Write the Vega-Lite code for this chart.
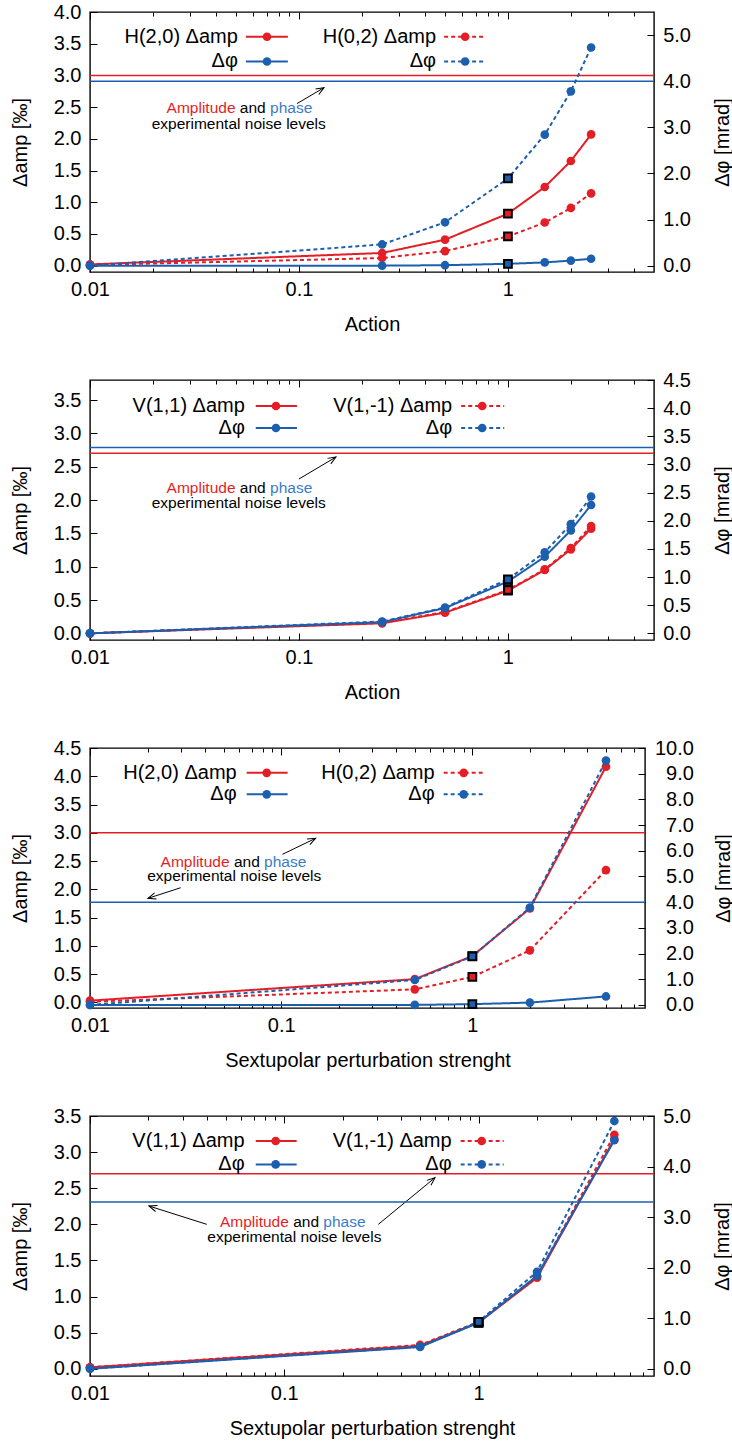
{
  "$schema": "https://vega.github.io/schema/vega-lite/v6.json",
  "background": "white",
  "padding": {"left": 9, "top": 1, "right": 0, "bottom": 0},
  "bounds": "flush",
  "spacing": 108,
  "config": {
    "font": "Liberation Sans",
    "view": {"stroke": "black", "strokeWidth": 1.4},
    "axis": {
      "grid": false, "domain": false, "tickColor": "black", "tickWidth": 1,
      "labelFont": "Liberation Sans", "labelFontSize": 20, "labelColor": "black",
      "titleFont": "Liberation Sans", "titleFontSize": 20, "titleFontWeight": "normal", "titleColor": "black",
      "labelFlush": false, "labelOverlap": false
    },
    "text": {"font": "Liberation Sans", "color": "black"}
  },
  "datasets": {
    "action_h": [
      {"mode": "H(2,0)", "kind": "amp", "x": 0.01, "y": 0.02},
      {"mode": "H(2,0)", "kind": "amp", "x": 0.25, "y": 0.20},
      {"mode": "H(2,0)", "kind": "amp", "x": 0.5, "y": 0.41},
      {"mode": "H(2,0)", "kind": "amp", "x": 1, "y": 0.82},
      {"mode": "H(2,0)", "kind": "amp", "x": 1.5, "y": 1.24},
      {"mode": "H(2,0)", "kind": "amp", "x": 2, "y": 1.65},
      {"mode": "H(2,0)", "kind": "amp", "x": 2.5, "y": 2.07},
      {"mode": "H(2,0)", "kind": "phase", "x": 0.01, "y": 0.0},
      {"mode": "H(2,0)", "kind": "phase", "x": 0.25, "y": 0.0},
      {"mode": "H(2,0)", "kind": "phase", "x": 0.5, "y": 0.01},
      {"mode": "H(2,0)", "kind": "phase", "x": 1, "y": 0.04},
      {"mode": "H(2,0)", "kind": "phase", "x": 1.5, "y": 0.07},
      {"mode": "H(2,0)", "kind": "phase", "x": 2, "y": 0.11},
      {"mode": "H(2,0)", "kind": "phase", "x": 2.5, "y": 0.15},
      {"mode": "H(0,2)", "kind": "amp", "x": 0.01, "y": 0.01},
      {"mode": "H(0,2)", "kind": "amp", "x": 0.25, "y": 0.12},
      {"mode": "H(0,2)", "kind": "amp", "x": 0.5, "y": 0.23},
      {"mode": "H(0,2)", "kind": "amp", "x": 1, "y": 0.46},
      {"mode": "H(0,2)", "kind": "amp", "x": 1.5, "y": 0.68},
      {"mode": "H(0,2)", "kind": "amp", "x": 2, "y": 0.91},
      {"mode": "H(0,2)", "kind": "amp", "x": 2.5, "y": 1.14},
      {"mode": "H(0,2)", "kind": "phase", "x": 0.01, "y": 0.0},
      {"mode": "H(0,2)", "kind": "phase", "x": 0.25, "y": 0.46},
      {"mode": "H(0,2)", "kind": "phase", "x": 0.5, "y": 0.94},
      {"mode": "H(0,2)", "kind": "phase", "x": 1, "y": 1.89},
      {"mode": "H(0,2)", "kind": "phase", "x": 1.5, "y": 2.84},
      {"mode": "H(0,2)", "kind": "phase", "x": 2, "y": 3.78},
      {"mode": "H(0,2)", "kind": "phase", "x": 2.5, "y": 4.73}
    ],
    "action_v": [
      {"mode": "V(1,1)", "kind": "amp", "x": 0.01, "y": 0.0},
      {"mode": "V(1,1)", "kind": "amp", "x": 0.25, "y": 0.15},
      {"mode": "V(1,1)", "kind": "amp", "x": 0.5, "y": 0.31},
      {"mode": "V(1,1)", "kind": "amp", "x": 1, "y": 0.64},
      {"mode": "V(1,1)", "kind": "amp", "x": 1.5, "y": 0.95},
      {"mode": "V(1,1)", "kind": "amp", "x": 2, "y": 1.26},
      {"mode": "V(1,1)", "kind": "amp", "x": 2.5, "y": 1.57},
      {"mode": "V(1,1)", "kind": "phase", "x": 0.01, "y": 0.0},
      {"mode": "V(1,1)", "kind": "phase", "x": 0.25, "y": 0.20},
      {"mode": "V(1,1)", "kind": "phase", "x": 0.5, "y": 0.45},
      {"mode": "V(1,1)", "kind": "phase", "x": 1, "y": 0.92},
      {"mode": "V(1,1)", "kind": "phase", "x": 1.5, "y": 1.36},
      {"mode": "V(1,1)", "kind": "phase", "x": 2, "y": 1.83},
      {"mode": "V(1,1)", "kind": "phase", "x": 2.5, "y": 2.28},
      {"mode": "V(1,-1)", "kind": "amp", "x": 0.01, "y": 0.0},
      {"mode": "V(1,-1)", "kind": "amp", "x": 0.25, "y": 0.16},
      {"mode": "V(1,-1)", "kind": "amp", "x": 0.5, "y": 0.32},
      {"mode": "V(1,-1)", "kind": "amp", "x": 1, "y": 0.65},
      {"mode": "V(1,-1)", "kind": "amp", "x": 1.5, "y": 0.96},
      {"mode": "V(1,-1)", "kind": "amp", "x": 2, "y": 1.28},
      {"mode": "V(1,-1)", "kind": "amp", "x": 2.5, "y": 1.61},
      {"mode": "V(1,-1)", "kind": "phase", "x": 0.01, "y": 0.0},
      {"mode": "V(1,-1)", "kind": "phase", "x": 0.25, "y": 0.21},
      {"mode": "V(1,-1)", "kind": "phase", "x": 0.5, "y": 0.46},
      {"mode": "V(1,-1)", "kind": "phase", "x": 1, "y": 0.96},
      {"mode": "V(1,-1)", "kind": "phase", "x": 1.5, "y": 1.44},
      {"mode": "V(1,-1)", "kind": "phase", "x": 2, "y": 1.94},
      {"mode": "V(1,-1)", "kind": "phase", "x": 2.5, "y": 2.43}
    ],
    "sext_h": [
      {"mode": "H(2,0)", "kind": "amp", "x": 0.01, "y": 0.03},
      {"mode": "H(2,0)", "kind": "amp", "x": 0.5, "y": 0.41},
      {"mode": "H(2,0)", "kind": "amp", "x": 1, "y": 0.82},
      {"mode": "H(2,0)", "kind": "amp", "x": 2, "y": 1.66},
      {"mode": "H(2,0)", "kind": "amp", "x": 5, "y": 4.17},
      {"mode": "H(2,0)", "kind": "phase", "x": 0.01, "y": 0.0},
      {"mode": "H(2,0)", "kind": "phase", "x": 0.5, "y": 0.0},
      {"mode": "H(2,0)", "kind": "phase", "x": 1, "y": 0.03},
      {"mode": "H(2,0)", "kind": "phase", "x": 2, "y": 0.09},
      {"mode": "H(2,0)", "kind": "phase", "x": 5, "y": 0.33},
      {"mode": "H(0,2)", "kind": "amp", "x": 0.01, "y": 0.01},
      {"mode": "H(0,2)", "kind": "amp", "x": 0.5, "y": 0.23},
      {"mode": "H(0,2)", "kind": "amp", "x": 1, "y": 0.45},
      {"mode": "H(0,2)", "kind": "amp", "x": 2, "y": 0.92},
      {"mode": "H(0,2)", "kind": "amp", "x": 5, "y": 2.34},
      {"mode": "H(0,2)", "kind": "phase", "x": 0.01, "y": 0.0},
      {"mode": "H(0,2)", "kind": "phase", "x": 0.5, "y": 0.97},
      {"mode": "H(0,2)", "kind": "phase", "x": 1, "y": 1.89},
      {"mode": "H(0,2)", "kind": "phase", "x": 2, "y": 3.79},
      {"mode": "H(0,2)", "kind": "phase", "x": 5, "y": 9.51}
    ],
    "sext_v": [
      {"mode": "V(1,1)", "kind": "amp", "x": 0.01, "y": 0.02},
      {"mode": "V(1,1)", "kind": "amp", "x": 0.5, "y": 0.32},
      {"mode": "V(1,1)", "kind": "amp", "x": 1, "y": 0.64},
      {"mode": "V(1,1)", "kind": "amp", "x": 2, "y": 1.26},
      {"mode": "V(1,1)", "kind": "amp", "x": 5, "y": 3.18},
      {"mode": "V(1,1)", "kind": "phase", "x": 0.01, "y": 0.0},
      {"mode": "V(1,1)", "kind": "phase", "x": 0.5, "y": 0.43},
      {"mode": "V(1,1)", "kind": "phase", "x": 1, "y": 0.91},
      {"mode": "V(1,1)", "kind": "phase", "x": 2, "y": 1.84},
      {"mode": "V(1,1)", "kind": "phase", "x": 5, "y": 4.52},
      {"mode": "V(1,-1)", "kind": "amp", "x": 0.01, "y": 0.02},
      {"mode": "V(1,-1)", "kind": "amp", "x": 0.5, "y": 0.33},
      {"mode": "V(1,-1)", "kind": "amp", "x": 1, "y": 0.65},
      {"mode": "V(1,-1)", "kind": "amp", "x": 2, "y": 1.28},
      {"mode": "V(1,-1)", "kind": "amp", "x": 5, "y": 3.24},
      {"mode": "V(1,-1)", "kind": "phase", "x": 0.01, "y": 0.0},
      {"mode": "V(1,-1)", "kind": "phase", "x": 0.5, "y": 0.44},
      {"mode": "V(1,-1)", "kind": "phase", "x": 1, "y": 0.93},
      {"mode": "V(1,-1)", "kind": "phase", "x": 2, "y": 1.92},
      {"mode": "V(1,-1)", "kind": "phase", "x": 5, "y": 4.90}
    ]
  },
  "vconcat": [
    {
      "width": 564, "height": 260,
      "layer": [
        {
          "layer": [
            {"data": {"values": [{}]}, "mark": {"type": "rule", "color": "#e41e26", "strokeWidth": 1.5},
             "encoding": {"y": {"datum": 3.0, "scale": {"domain": [-0.1, 4], "nice": false, "zero": false}, "axis": null}}},
            {"data": {"name": "action_h"}, "transform": [{"filter": "datum.kind == 'amp'"}],
             "mark": {"type": "line", "color": "#e41e26", "strokeWidth": 2},
             "encoding": {
               "x": {"field": "x", "type": "quantitative", "scale": {"type": "log", "domain": [0.01, 5], "nice": false},
                     "axis": {"orient": "bottom", "values": [0.01, 0.1, 1], "format": "~g", "title": "Action", "tickSize": -7, "labelPadding": 14, "titlePadding": 15}},
               "y": {"field": "y", "type": "quantitative", "scale": {"domain": [-0.1, 4], "nice": false, "zero": false},
                     "axis": {"orient": "left", "values": [0, 0.5, 1, 1.5, 2, 2.5, 3, 3.5, 4], "format": ".1f", "title": "Δamp [‰]", "tickSize": -7, "labelPadding": 16, "titlePadding": 23}},
               "strokeDash": {"field": "mode", "type": "nominal", "scale": {"domain": ["H(2,0)", "H(0,2)", "V(1,1)", "V(1,-1)"], "range": [[1, 0], [4, 3], [1, 0], [4, 3]]}, "legend": null}
             }},
            {"data": {"name": "action_h"}, "transform": [{"filter": "datum.kind == 'amp' && datum.x != 1"}],
             "mark": {"type": "circle", "color": "#e41e26", "size": 75, "opacity": 1},
             "encoding": {
               "x": {"field": "x", "type": "quantitative", "axis": {"orient": "bottom", "values": [0.02, 0.03, 0.04, 0.05, 0.06, 0.07, 0.08, 0.09, 0.2, 0.3, 0.4, 0.5, 0.6, 0.7, 0.8, 0.9, 2, 3, 4], "labels": false, "title": null, "tickSize": -4}},
               "y": {"field": "y", "type": "quantitative", "axis": null}}},
            {"data": {"name": "action_h"}, "transform": [{"filter": "datum.kind == 'amp' && datum.x == 1"}],
             "mark": {"type": "square", "fill": "#e41e26", "stroke": "black", "strokeWidth": 2, "size": 60, "opacity": 1},
             "encoding": {"x": {"field": "x", "type": "quantitative", "axis": null}, "y": {"field": "y", "type": "quantitative", "axis": null}}},
            {"data": {"values": [{}]}, "mark": {"type": "text", "text": "H(2,0) Δamp", "align": "right", "baseline": "middle", "fontSize": 20},
             "encoding": {"x": {"datum": 0.051, "axis": null}, "y": {"datum": 3.61, "axis": null}}},
            {"data": {"values": [{}]}, "mark": {"type": "text", "text": "Δφ", "align": "right", "baseline": "middle", "fontSize": 20},
             "encoding": {"x": {"datum": 0.051, "axis": null}, "y": {"datum": 3.22, "axis": null}}},
            {"data": {"values": [{}]}, "mark": {"type": "text", "text": "H(0,2) Δamp", "align": "right", "baseline": "middle", "fontSize": 20},
             "encoding": {"x": {"datum": 0.453, "axis": null}, "y": {"datum": 3.61, "axis": null}}},
            {"data": {"values": [{}]}, "mark": {"type": "text", "text": "Δφ", "align": "right", "baseline": "middle", "fontSize": 20},
             "encoding": {"x": {"datum": 0.453, "axis": null}, "y": {"datum": 3.22, "axis": null}}},
            {"data": {"values": [{}]}, "mark": {"type": "rule", "color": "#e41e26", "strokeWidth": 2},
             "encoding": {"x": {"datum": 0.0557, "axis": null}, "x2": {"datum": 0.0885}, "y": {"datum": 3.61, "axis": null}}},
            {"data": {"values": [{}]}, "mark": {"type": "rule", "color": "#1c5fae", "strokeWidth": 2},
             "encoding": {"x": {"datum": 0.0557, "axis": null}, "x2": {"datum": 0.0885}, "y": {"datum": 3.22, "axis": null}}},
            {"data": {"values": [{}]}, "mark": {"type": "rule", "color": "#e41e26", "strokeWidth": 2, "strokeDash": [4, 3]},
             "encoding": {"x": {"datum": 0.495, "axis": null}, "x2": {"datum": 0.787}, "y": {"datum": 3.61, "axis": null}}},
            {"data": {"values": [{}]}, "mark": {"type": "rule", "color": "#1c5fae", "strokeWidth": 2, "strokeDash": [4, 3]},
             "encoding": {"x": {"datum": 0.495, "axis": null}, "x2": {"datum": 0.787}, "y": {"datum": 3.22, "axis": null}}},
            {"data": {"values": [{}]}, "mark": {"type": "circle", "color": "#e41e26", "size": 75, "opacity": 1},
             "encoding": {"x": {"datum": 0.0703, "axis": null}, "y": {"datum": 3.61, "axis": null}}},
            {"data": {"values": [{}]}, "mark": {"type": "circle", "color": "#1c5fae", "size": 75, "opacity": 1},
             "encoding": {"x": {"datum": 0.0703, "axis": null}, "y": {"datum": 3.22, "axis": null}}},
            {"data": {"values": [{}]}, "mark": {"type": "circle", "color": "#e41e26", "size": 75, "opacity": 1},
             "encoding": {"x": {"datum": 0.624, "axis": null}, "y": {"datum": 3.61, "axis": null}}},
            {"data": {"values": [{}]}, "mark": {"type": "circle", "color": "#1c5fae", "size": 75, "opacity": 1},
             "encoding": {"x": {"datum": 0.624, "axis": null}, "y": {"datum": 3.22, "axis": null}}},
            {"data": {"values": [{}]}, "mark": {"type": "text", "text": "Amplitude", "align": "right", "baseline": "middle", "fontSize": 15.5, "color": "#e41e26"},
             "encoding": {"x": {"datum": 0.0497, "axis": null}, "y": {"datum": 2.49, "axis": null}}},
            {"data": {"values": [{}]}, "mark": {"type": "text", "text": "and", "align": "center", "baseline": "middle", "fontSize": 15.5},
             "encoding": {"x": {"datum": 0.0601, "axis": null}, "y": {"datum": 2.49, "axis": null}}},
            {"data": {"values": [{}]}, "mark": {"type": "text", "text": "phase", "align": "left", "baseline": "middle", "fontSize": 15.5, "color": "#3b7cc6"},
             "encoding": {"x": {"datum": 0.0727, "axis": null}, "y": {"datum": 2.49, "axis": null}}},
            {"data": {"values": [{}]}, "mark": {"type": "text", "text": "experimental noise levels", "align": "center", "baseline": "middle", "fontSize": 15.5},
             "encoding": {"x": {"datum": 0.0515, "axis": null}, "y": {"datum": 2.24, "axis": null}}},
            {"data": {"values": [{}]}, "mark": {"type": "rule", "color": "black", "strokeWidth": 1},
             "encoding": {"x": {"datum": 0.0978, "axis": null}, "x2": {"datum": 0.1318}, "y": {"datum": 2.555, "axis": null}, "y2": {"datum": 2.807}}},
            {"data": {"values": [{}]}, "mark": {"type": "point", "shape": "M-2,-0.8L0,0L-2,0.8", "filled": false, "stroke": "black", "strokeWidth": 1, "size": 64, "angle": 329, "opacity": 1},
             "encoding": {"x": {"datum": 0.1318, "axis": null}, "y": {"datum": 2.807, "axis": null}}}
          ],
          "resolve": {"axis": {"x": "independent", "y": "independent"}}
        },
        {
          "layer": [
            {"data": {"values": [{}]}, "mark": {"type": "rule", "color": "#1c5fae", "strokeWidth": 1.5},
             "encoding": {"y": {"datum": 4.0, "scale": {"domain": [-0.1375, 5.5], "nice": false, "zero": false}, "axis": null}}},
            {"data": {"name": "action_h"}, "transform": [{"filter": "datum.kind == 'phase'"}],
             "mark": {"type": "line", "color": "#1c5fae", "strokeWidth": 2},
             "encoding": {
               "x": {"field": "x", "type": "quantitative", "axis": {"orient": "top", "values": [0.01, 0.1, 1], "labels": false, "title": null, "tickSize": -7}},
               "y": {"field": "y", "type": "quantitative", "scale": {"domain": [-0.1375, 5.5], "nice": false, "zero": false},
                     "axis": {"orient": "right", "values": [0, 1, 2, 3, 4, 5], "format": ".1f", "title": "Δφ [mrad]", "tickSize": -7, "labelAlign": "right", "labelPadding": 43.5, "titlePadding": 22, "titleAngle": 270, "titleBaseline": "top"}},
               "strokeDash": {"field": "mode", "type": "nominal", "scale": {"domain": ["H(2,0)", "H(0,2)", "V(1,1)", "V(1,-1)"], "range": [[1, 0], [4, 3], [1, 0], [4, 3]]}, "legend": null}
             }},
            {"data": {"name": "action_h"}, "transform": [{"filter": "datum.kind == 'phase' && datum.x != 1"}],
             "mark": {"type": "circle", "color": "#1c5fae", "size": 75, "opacity": 1},
             "encoding": {
               "x": {"field": "x", "type": "quantitative", "axis": {"orient": "top", "values": [0.02, 0.03, 0.04, 0.05, 0.06, 0.07, 0.08, 0.09, 0.2, 0.3, 0.4, 0.5, 0.6, 0.7, 0.8, 0.9, 2, 3, 4], "labels": false, "title": null, "tickSize": -4}},
               "y": {"field": "y", "type": "quantitative", "axis": null}}},
            {"data": {"name": "action_h"}, "transform": [{"filter": "datum.kind == 'phase' && datum.x == 1"}],
             "mark": {"type": "square", "fill": "#1c5fae", "stroke": "black", "strokeWidth": 2, "size": 60, "opacity": 1},
             "encoding": {"x": {"field": "x", "type": "quantitative", "axis": null}, "y": {"field": "y", "type": "quantitative", "axis": null}}}
          ],
          "resolve": {"axis": {"x": "independent", "y": "independent"}}
        }
      ],
      "resolve": {"scale": {"y": "independent"}, "axis": {"x": "independent", "y": "independent"}}
    },
    {
      "width": 564, "height": 260,
      "layer": [
        {
          "layer": [
            {"data": {"values": [{}]}, "mark": {"type": "rule", "color": "#e41e26", "strokeWidth": 1.5},
             "encoding": {"y": {"datum": 2.7, "scale": {"domain": [-0.1, 3.8], "nice": false, "zero": false}, "axis": null}}},
            {"data": {"name": "action_v"}, "transform": [{"filter": "datum.kind == 'amp'"}],
             "mark": {"type": "line", "color": "#e41e26", "strokeWidth": 2},
             "encoding": {
               "x": {"field": "x", "type": "quantitative", "scale": {"type": "log", "domain": [0.01, 5], "nice": false},
                     "axis": {"orient": "bottom", "values": [0.01, 0.1, 1], "format": "~g", "title": "Action", "tickSize": -7, "labelPadding": 14, "titlePadding": 15}},
               "y": {"field": "y", "type": "quantitative", "scale": {"domain": [-0.1, 3.8], "nice": false, "zero": false},
                     "axis": {"orient": "left", "values": [0, 0.5, 1, 1.5, 2, 2.5, 3, 3.5], "format": ".1f", "title": "Δamp [‰]", "tickSize": -7, "labelPadding": 16, "titlePadding": 23}},
               "strokeDash": {"field": "mode", "type": "nominal", "scale": {"domain": ["H(2,0)", "H(0,2)", "V(1,1)", "V(1,-1)"], "range": [[1, 0], [4, 3], [1, 0], [4, 3]]}, "legend": null}
             }},
            {"data": {"name": "action_v"}, "transform": [{"filter": "datum.kind == 'amp' && datum.x != 1"}],
             "mark": {"type": "circle", "color": "#e41e26", "size": 75, "opacity": 1},
             "encoding": {
               "x": {"field": "x", "type": "quantitative", "axis": {"orient": "bottom", "values": [0.02, 0.03, 0.04, 0.05, 0.06, 0.07, 0.08, 0.09, 0.2, 0.3, 0.4, 0.5, 0.6, 0.7, 0.8, 0.9, 2, 3, 4], "labels": false, "title": null, "tickSize": -4}},
               "y": {"field": "y", "type": "quantitative", "axis": null}}},
            {"data": {"name": "action_v"}, "transform": [{"filter": "datum.kind == 'amp' && datum.x == 1"}],
             "mark": {"type": "square", "fill": "#e41e26", "stroke": "black", "strokeWidth": 2, "size": 60, "opacity": 1},
             "encoding": {"x": {"field": "x", "type": "quantitative", "axis": null}, "y": {"field": "y", "type": "quantitative", "axis": null}}},
            {"data": {"values": [{}]}, "mark": {"type": "text", "text": "V(1,1) Δamp", "align": "right", "baseline": "middle", "fontSize": 20},
             "encoding": {"x": {"datum": 0.0551, "axis": null}, "y": {"datum": 3.41, "axis": null}}},
            {"data": {"values": [{}]}, "mark": {"type": "text", "text": "Δφ", "align": "right", "baseline": "middle", "fontSize": 20},
             "encoding": {"x": {"datum": 0.0551, "axis": null}, "y": {"datum": 3.08, "axis": null}}},
            {"data": {"values": [{}]}, "mark": {"type": "text", "text": "V(1,-1) Δamp", "align": "right", "baseline": "middle", "fontSize": 20},
             "encoding": {"x": {"datum": 0.541, "axis": null}, "y": {"datum": 3.41, "axis": null}}},
            {"data": {"values": [{}]}, "mark": {"type": "text", "text": "Δφ", "align": "right", "baseline": "middle", "fontSize": 20},
             "encoding": {"x": {"datum": 0.541, "axis": null}, "y": {"datum": 3.08, "axis": null}}},
            {"data": {"values": [{}]}, "mark": {"type": "rule", "color": "#e41e26", "strokeWidth": 2},
             "encoding": {"x": {"datum": 0.0621, "axis": null}, "x2": {"datum": 0.0978}, "y": {"datum": 3.41, "axis": null}}},
            {"data": {"values": [{}]}, "mark": {"type": "rule", "color": "#1c5fae", "strokeWidth": 2},
             "encoding": {"x": {"datum": 0.0621, "axis": null}, "x2": {"datum": 0.0978}, "y": {"datum": 3.08, "axis": null}}},
            {"data": {"values": [{}]}, "mark": {"type": "rule", "color": "#e41e26", "strokeWidth": 2, "strokeDash": [4, 3]},
             "encoding": {"x": {"datum": 0.5974, "axis": null}, "x2": {"datum": 0.96}, "y": {"datum": 3.41, "axis": null}}},
            {"data": {"values": [{}]}, "mark": {"type": "rule", "color": "#1c5fae", "strokeWidth": 2, "strokeDash": [4, 3]},
             "encoding": {"x": {"datum": 0.5974, "axis": null}, "x2": {"datum": 0.96}, "y": {"datum": 3.08, "axis": null}}},
            {"data": {"values": [{}]}, "mark": {"type": "circle", "color": "#e41e26", "size": 75, "opacity": 1},
             "encoding": {"x": {"datum": 0.0776, "axis": null}, "y": {"datum": 3.41, "axis": null}}},
            {"data": {"values": [{}]}, "mark": {"type": "circle", "color": "#1c5fae", "size": 75, "opacity": 1},
             "encoding": {"x": {"datum": 0.0776, "axis": null}, "y": {"datum": 3.08, "axis": null}}},
            {"data": {"values": [{}]}, "mark": {"type": "circle", "color": "#e41e26", "size": 75, "opacity": 1},
             "encoding": {"x": {"datum": 0.753, "axis": null}, "y": {"datum": 3.41, "axis": null}}},
            {"data": {"values": [{}]}, "mark": {"type": "circle", "color": "#1c5fae", "size": 75, "opacity": 1},
             "encoding": {"x": {"datum": 0.753, "axis": null}, "y": {"datum": 3.08, "axis": null}}},
            {"data": {"values": [{}]}, "mark": {"type": "text", "text": "Amplitude", "align": "right", "baseline": "middle", "fontSize": 15.5, "color": "#e41e26"},
             "encoding": {"x": {"datum": 0.0497, "axis": null}, "y": {"datum": 2.18, "axis": null}}},
            {"data": {"values": [{}]}, "mark": {"type": "text", "text": "and", "align": "center", "baseline": "middle", "fontSize": 15.5},
             "encoding": {"x": {"datum": 0.0601, "axis": null}, "y": {"datum": 2.18, "axis": null}}},
            {"data": {"values": [{}]}, "mark": {"type": "text", "text": "phase", "align": "left", "baseline": "middle", "fontSize": 15.5, "color": "#3b7cc6"},
             "encoding": {"x": {"datum": 0.0727, "axis": null}, "y": {"datum": 2.18, "axis": null}}},
            {"data": {"values": [{}]}, "mark": {"type": "text", "text": "experimental noise levels", "align": "center", "baseline": "middle", "fontSize": 15.5},
             "encoding": {"x": {"datum": 0.0515, "axis": null}, "y": {"datum": 1.96, "axis": null}}},
            {"data": {"values": [{}]}, "mark": {"type": "rule", "color": "black", "strokeWidth": 1},
             "encoding": {"x": {"datum": 0.1, "axis": null}, "x2": {"datum": 0.1504}, "y": {"datum": 2.315, "axis": null}, "y2": {"datum": 2.645}}},
            {"data": {"values": [{}]}, "mark": {"type": "point", "shape": "M-2,-0.8L0,0L-2,0.8", "filled": false, "stroke": "black", "strokeWidth": 1, "size": 64, "angle": 329, "opacity": 1},
             "encoding": {"x": {"datum": 0.1504, "axis": null}, "y": {"datum": 2.645, "axis": null}}}
          ],
          "resolve": {"axis": {"x": "independent", "y": "independent"}}
        },
        {
          "layer": [
            {"data": {"values": [{}]}, "mark": {"type": "rule", "color": "#1c5fae", "strokeWidth": 1.5},
             "encoding": {"y": {"datum": 3.3, "scale": {"domain": [-0.118, 4.5], "nice": false, "zero": false}, "axis": null}}},
            {"data": {"name": "action_v"}, "transform": [{"filter": "datum.kind == 'phase'"}],
             "mark": {"type": "line", "color": "#1c5fae", "strokeWidth": 2},
             "encoding": {
               "x": {"field": "x", "type": "quantitative", "axis": {"orient": "top", "values": [0.01, 0.1, 1], "labels": false, "title": null, "tickSize": -7}},
               "y": {"field": "y", "type": "quantitative", "scale": {"domain": [-0.118, 4.5], "nice": false, "zero": false},
                     "axis": {"orient": "right", "values": [0, 0.5, 1, 1.5, 2, 2.5, 3, 3.5, 4, 4.5], "format": ".1f", "title": "Δφ [mrad]", "tickSize": -7, "labelAlign": "right", "labelPadding": 43.5, "titlePadding": 22, "titleAngle": 270, "titleBaseline": "top"}},
               "strokeDash": {"field": "mode", "type": "nominal", "scale": {"domain": ["H(2,0)", "H(0,2)", "V(1,1)", "V(1,-1)"], "range": [[1, 0], [4, 3], [1, 0], [4, 3]]}, "legend": null}
             }},
            {"data": {"name": "action_v"}, "transform": [{"filter": "datum.kind == 'phase' && datum.x != 1"}],
             "mark": {"type": "circle", "color": "#1c5fae", "size": 75, "opacity": 1},
             "encoding": {
               "x": {"field": "x", "type": "quantitative", "axis": {"orient": "top", "values": [0.02, 0.03, 0.04, 0.05, 0.06, 0.07, 0.08, 0.09, 0.2, 0.3, 0.4, 0.5, 0.6, 0.7, 0.8, 0.9, 2, 3, 4], "labels": false, "title": null, "tickSize": -4}},
               "y": {"field": "y", "type": "quantitative", "axis": null}}},
            {"data": {"name": "action_v"}, "transform": [{"filter": "datum.kind == 'phase' && datum.x == 1"}],
             "mark": {"type": "square", "fill": "#1c5fae", "stroke": "black", "strokeWidth": 2, "size": 60, "opacity": 1},
             "encoding": {"x": {"field": "x", "type": "quantitative", "axis": null}, "y": {"field": "y", "type": "quantitative", "axis": null}}}
          ],
          "resolve": {"axis": {"x": "independent", "y": "independent"}}
        }
      ],
      "resolve": {"scale": {"y": "independent"}, "axis": {"x": "independent", "y": "independent"}}
    },
    {
      "width": 555, "height": 260,
      "layer": [
        {
          "layer": [
            {"data": {"values": [{}]}, "mark": {"type": "rule", "color": "#e41e26", "strokeWidth": 1.5},
             "encoding": {"y": {"datum": 3.0, "scale": {"domain": [-0.1, 4.5], "nice": false, "zero": false}, "axis": null}}},
            {"data": {"name": "sext_h"}, "transform": [{"filter": "datum.kind == 'amp'"}],
             "mark": {"type": "line", "color": "#e41e26", "strokeWidth": 2},
             "encoding": {
               "x": {"field": "x", "type": "quantitative", "scale": {"type": "log", "domain": [0.01, 8], "nice": false},
                     "axis": {"orient": "bottom", "values": [0.01, 0.1, 1], "format": "~g", "title": "Sextupolar perturbation strenght", "tickSize": -7, "labelPadding": 14, "titlePadding": 15}},
               "y": {"field": "y", "type": "quantitative", "scale": {"domain": [-0.1, 4.5], "nice": false, "zero": false},
                     "axis": {"orient": "left", "values": [0, 0.5, 1, 1.5, 2, 2.5, 3, 3.5, 4, 4.5], "format": ".1f", "title": "Δamp [‰]", "tickSize": -7, "labelPadding": 16, "titlePadding": 23}},
               "strokeDash": {"field": "mode", "type": "nominal", "scale": {"domain": ["H(2,0)", "H(0,2)", "V(1,1)", "V(1,-1)"], "range": [[1, 0], [4, 3], [1, 0], [4, 3]]}, "legend": null}
             }},
            {"data": {"name": "sext_h"}, "transform": [{"filter": "datum.kind == 'amp' && datum.x != 1"}],
             "mark": {"type": "circle", "color": "#e41e26", "size": 75, "opacity": 1},
             "encoding": {
               "x": {"field": "x", "type": "quantitative", "axis": {"orient": "bottom", "values": [0.02, 0.03, 0.04, 0.05, 0.06, 0.07, 0.08, 0.09, 0.2, 0.3, 0.4, 0.5, 0.6, 0.7, 0.8, 0.9, 2, 3, 4, 5, 6, 7], "labels": false, "title": null, "tickSize": -4}},
               "y": {"field": "y", "type": "quantitative", "axis": null}}},
            {"data": {"name": "sext_h"}, "transform": [{"filter": "datum.kind == 'amp' && datum.x == 1"}],
             "mark": {"type": "square", "fill": "#e41e26", "stroke": "black", "strokeWidth": 2, "size": 60, "opacity": 1},
             "encoding": {"x": {"field": "x", "type": "quantitative", "axis": null}, "y": {"field": "y", "type": "quantitative", "axis": null}}},
            {"data": {"values": [{}]}, "mark": {"type": "text", "text": "H(2,0) Δamp", "align": "right", "baseline": "middle", "fontSize": 20},
             "encoding": {"x": {"datum": 0.0585, "axis": null}, "y": {"datum": 4.06, "axis": null}}},
            {"data": {"values": [{}]}, "mark": {"type": "text", "text": "Δφ", "align": "right", "baseline": "middle", "fontSize": 20},
             "encoding": {"x": {"datum": 0.0585, "axis": null}, "y": {"datum": 3.68, "axis": null}}},
            {"data": {"values": [{}]}, "mark": {"type": "text", "text": "H(0,2) Δamp", "align": "right", "baseline": "middle", "fontSize": 20},
             "encoding": {"x": {"datum": 0.635, "axis": null}, "y": {"datum": 4.06, "axis": null}}},
            {"data": {"values": [{}]}, "mark": {"type": "text", "text": "Δφ", "align": "right", "baseline": "middle", "fontSize": 20},
             "encoding": {"x": {"datum": 0.635, "axis": null}, "y": {"datum": 3.68, "axis": null}}},
            {"data": {"values": [{}]}, "mark": {"type": "rule", "color": "#e41e26", "strokeWidth": 2},
             "encoding": {"x": {"datum": 0.066, "axis": null}, "x2": {"datum": 0.1081}, "y": {"datum": 4.06, "axis": null}}},
            {"data": {"values": [{}]}, "mark": {"type": "rule", "color": "#1c5fae", "strokeWidth": 2},
             "encoding": {"x": {"datum": 0.066, "axis": null}, "x2": {"datum": 0.1081}, "y": {"datum": 3.68, "axis": null}}},
            {"data": {"values": [{}]}, "mark": {"type": "rule", "color": "#e41e26", "strokeWidth": 2, "strokeDash": [4, 3]},
             "encoding": {"x": {"datum": 0.708, "axis": null}, "x2": {"datum": 1.16}, "y": {"datum": 4.06, "axis": null}}},
            {"data": {"values": [{}]}, "mark": {"type": "rule", "color": "#1c5fae", "strokeWidth": 2, "strokeDash": [4, 3]},
             "encoding": {"x": {"datum": 0.708, "axis": null}, "x2": {"datum": 1.16}, "y": {"datum": 3.68, "axis": null}}},
            {"data": {"values": [{}]}, "mark": {"type": "circle", "color": "#e41e26", "size": 75, "opacity": 1},
             "encoding": {"x": {"datum": 0.084, "axis": null}, "y": {"datum": 4.06, "axis": null}}},
            {"data": {"values": [{}]}, "mark": {"type": "circle", "color": "#1c5fae", "size": 75, "opacity": 1},
             "encoding": {"x": {"datum": 0.084, "axis": null}, "y": {"datum": 3.68, "axis": null}}},
            {"data": {"values": [{}]}, "mark": {"type": "circle", "color": "#e41e26", "size": 75, "opacity": 1},
             "encoding": {"x": {"datum": 0.901, "axis": null}, "y": {"datum": 4.06, "axis": null}}},
            {"data": {"values": [{}]}, "mark": {"type": "circle", "color": "#1c5fae", "size": 75, "opacity": 1},
             "encoding": {"x": {"datum": 0.901, "axis": null}, "y": {"datum": 3.68, "axis": null}}},
            {"data": {"values": [{}]}, "mark": {"type": "text", "text": "Amplitude", "align": "right", "baseline": "middle", "fontSize": 15.5, "color": "#e41e26"},
             "encoding": {"x": {"datum": 0.0537, "axis": null}, "y": {"datum": 2.49, "axis": null}}},
            {"data": {"values": [{}]}, "mark": {"type": "text", "text": "and", "align": "center", "baseline": "middle", "fontSize": 15.5},
             "encoding": {"x": {"datum": 0.0662, "axis": null}, "y": {"datum": 2.49, "axis": null}}},
            {"data": {"values": [{}]}, "mark": {"type": "text", "text": "phase", "align": "left", "baseline": "middle", "fontSize": 15.5, "color": "#3b7cc6"},
             "encoding": {"x": {"datum": 0.0814, "axis": null}, "y": {"datum": 2.49, "axis": null}}},
            {"data": {"values": [{}]}, "mark": {"type": "text", "text": "experimental noise levels", "align": "center", "baseline": "middle", "fontSize": 15.5},
             "encoding": {"x": {"datum": 0.0568, "axis": null}, "y": {"datum": 2.23, "axis": null}}},
            {"data": {"values": [{}]}, "mark": {"type": "rule", "color": "black", "strokeWidth": 1},
             "encoding": {"x": {"datum": 0.1015, "axis": null}, "x2": {"datum": 0.1515}, "y": {"datum": 2.619, "axis": null}, "y2": {"datum": 2.902}}},
            {"data": {"values": [{}]}, "mark": {"type": "point", "shape": "M-2,-0.8L0,0L-2,0.8", "filled": false, "stroke": "black", "strokeWidth": 1, "size": 64, "angle": 334, "opacity": 1},
             "encoding": {"x": {"datum": 0.1515, "axis": null}, "y": {"datum": 2.902, "axis": null}}},
            {"data": {"values": [{}]}, "mark": {"type": "rule", "color": "black", "strokeWidth": 1},
             "encoding": {"x": {"datum": 0.0298, "axis": null}, "x2": {"datum": 0.0201}, "y": {"datum": 2.028, "axis": null}, "y2": {"datum": 1.84}}},
            {"data": {"values": [{}]}, "mark": {"type": "point", "shape": "M-2,-0.8L0,0L-2,0.8", "filled": false, "stroke": "black", "strokeWidth": 1, "size": 64, "angle": 162, "opacity": 1},
             "encoding": {"x": {"datum": 0.0201, "axis": null}, "y": {"datum": 1.84, "axis": null}}}
          ],
          "resolve": {"axis": {"x": "independent", "y": "independent"}}
        },
        {
          "layer": [
            {"data": {"values": [{}]}, "mark": {"type": "rule", "color": "#1c5fae", "strokeWidth": 1.5},
             "encoding": {"y": {"datum": 4.0, "scale": {"domain": [-0.12, 10], "nice": false, "zero": false}, "axis": null}}},
            {"data": {"name": "sext_h"}, "transform": [{"filter": "datum.kind == 'phase'"}],
             "mark": {"type": "line", "color": "#1c5fae", "strokeWidth": 2},
             "encoding": {
               "x": {"field": "x", "type": "quantitative", "axis": {"orient": "top", "values": [0.01, 0.1, 1], "labels": false, "title": null, "tickSize": -7}},
               "y": {"field": "y", "type": "quantitative", "scale": {"domain": [-0.12, 10], "nice": false, "zero": false},
                     "axis": {"orient": "right", "values": [0, 1, 2, 3, 4, 5, 6, 7, 8, 9, 10], "format": ".1f", "title": "Δφ [mrad]", "tickSize": -7, "labelAlign": "right", "labelPadding": 55.4, "titlePadding": 20, "titleAngle": 270, "titleBaseline": "top"}},
               "strokeDash": {"field": "mode", "type": "nominal", "scale": {"domain": ["H(2,0)", "H(0,2)", "V(1,1)", "V(1,-1)"], "range": [[1, 0], [4, 3], [1, 0], [4, 3]]}, "legend": null}
             }},
            {"data": {"name": "sext_h"}, "transform": [{"filter": "datum.kind == 'phase' && datum.x != 1"}],
             "mark": {"type": "circle", "color": "#1c5fae", "size": 75, "opacity": 1},
             "encoding": {
               "x": {"field": "x", "type": "quantitative", "axis": {"orient": "top", "values": [0.02, 0.03, 0.04, 0.05, 0.06, 0.07, 0.08, 0.09, 0.2, 0.3, 0.4, 0.5, 0.6, 0.7, 0.8, 0.9, 2, 3, 4, 5, 6, 7], "labels": false, "title": null, "tickSize": -4}},
               "y": {"field": "y", "type": "quantitative", "axis": null}}},
            {"data": {"name": "sext_h"}, "transform": [{"filter": "datum.kind == 'phase' && datum.x == 1"}],
             "mark": {"type": "square", "fill": "#1c5fae", "stroke": "black", "strokeWidth": 2, "size": 60, "opacity": 1},
             "encoding": {"x": {"field": "x", "type": "quantitative", "axis": null}, "y": {"field": "y", "type": "quantitative", "axis": null}}}
          ],
          "resolve": {"axis": {"x": "independent", "y": "independent"}}
        }
      ],
      "resolve": {"scale": {"y": "independent"}, "axis": {"x": "independent", "y": "independent"}}
    },
    {
      "width": 564, "height": 260,
      "layer": [
        {
          "layer": [
            {"data": {"values": [{}]}, "mark": {"type": "rule", "color": "#e41e26", "strokeWidth": 1.5},
             "encoding": {"y": {"datum": 2.7, "scale": {"domain": [-0.1, 3.5], "nice": false, "zero": false}, "axis": null}}},
            {"data": {"name": "sext_v"}, "transform": [{"filter": "datum.kind == 'amp'"}],
             "mark": {"type": "line", "color": "#e41e26", "strokeWidth": 2},
             "encoding": {
               "x": {"field": "x", "type": "quantitative", "scale": {"type": "log", "domain": [0.01, 8], "nice": false},
                     "axis": {"orient": "bottom", "values": [0.01, 0.1, 1], "format": "~g", "title": "Sextupolar perturbation strenght", "tickSize": -7, "labelPadding": 14, "titlePadding": 15}},
               "y": {"field": "y", "type": "quantitative", "scale": {"domain": [-0.1, 3.5], "nice": false, "zero": false},
                     "axis": {"orient": "left", "values": [0, 0.5, 1, 1.5, 2, 2.5, 3, 3.5], "format": ".1f", "title": "Δamp [‰]", "tickSize": -7, "labelPadding": 16, "titlePadding": 23}},
               "strokeDash": {"field": "mode", "type": "nominal", "scale": {"domain": ["H(2,0)", "H(0,2)", "V(1,1)", "V(1,-1)"], "range": [[1, 0], [4, 3], [1, 0], [4, 3]]}, "legend": null}
             }},
            {"data": {"name": "sext_v"}, "transform": [{"filter": "datum.kind == 'amp' && datum.x != 1"}],
             "mark": {"type": "circle", "color": "#e41e26", "size": 75, "opacity": 1},
             "encoding": {
               "x": {"field": "x", "type": "quantitative", "axis": {"orient": "bottom", "values": [0.02, 0.03, 0.04, 0.05, 0.06, 0.07, 0.08, 0.09, 0.2, 0.3, 0.4, 0.5, 0.6, 0.7, 0.8, 0.9, 2, 3, 4, 5, 6, 7], "labels": false, "title": null, "tickSize": -4}},
               "y": {"field": "y", "type": "quantitative", "axis": null}}},
            {"data": {"name": "sext_v"}, "transform": [{"filter": "datum.kind == 'amp' && datum.x == 1"}],
             "mark": {"type": "square", "fill": "#e41e26", "stroke": "black", "strokeWidth": 2, "size": 60, "opacity": 1},
             "encoding": {"x": {"field": "x", "type": "quantitative", "axis": null}, "y": {"field": "y", "type": "quantitative", "axis": null}}},
            {"data": {"values": [{}]}, "mark": {"type": "text", "text": "V(1,1) Δamp", "align": "right", "baseline": "middle", "fontSize": 20},
             "encoding": {"x": {"datum": 0.0625, "axis": null}, "y": {"datum": 3.154, "axis": null}}},
            {"data": {"values": [{}]}, "mark": {"type": "text", "text": "Δφ", "align": "right", "baseline": "middle", "fontSize": 20},
             "encoding": {"x": {"datum": 0.0625, "axis": null}, "y": {"datum": 2.83, "axis": null}}},
            {"data": {"values": [{}]}, "mark": {"type": "text", "text": "V(1,-1) Δamp", "align": "right", "baseline": "middle", "fontSize": 20},
             "encoding": {"x": {"datum": 0.727, "axis": null}, "y": {"datum": 3.154, "axis": null}}},
            {"data": {"values": [{}]}, "mark": {"type": "text", "text": "Δφ", "align": "right", "baseline": "middle", "fontSize": 20},
             "encoding": {"x": {"datum": 0.727, "axis": null}, "y": {"datum": 2.83, "axis": null}}},
            {"data": {"values": [{}]}, "mark": {"type": "rule", "color": "#e41e26", "strokeWidth": 2},
             "encoding": {"x": {"datum": 0.0713, "axis": null}, "x2": {"datum": 0.1158}, "y": {"datum": 3.154, "axis": null}}},
            {"data": {"values": [{}]}, "mark": {"type": "rule", "color": "#1c5fae", "strokeWidth": 2},
             "encoding": {"x": {"datum": 0.0713, "axis": null}, "x2": {"datum": 0.1158}, "y": {"datum": 2.83, "axis": null}}},
            {"data": {"values": [{}]}, "mark": {"type": "rule", "color": "#e41e26", "strokeWidth": 2, "strokeDash": [4, 3]},
             "encoding": {"x": {"datum": 0.809, "axis": null}, "x2": {"datum": 1.347}, "y": {"datum": 3.154, "axis": null}}},
            {"data": {"values": [{}]}, "mark": {"type": "rule", "color": "#1c5fae", "strokeWidth": 2, "strokeDash": [4, 3]},
             "encoding": {"x": {"datum": 0.809, "axis": null}, "x2": {"datum": 1.347}, "y": {"datum": 2.83, "axis": null}}},
            {"data": {"values": [{}]}, "mark": {"type": "circle", "color": "#e41e26", "size": 75, "opacity": 1},
             "encoding": {"x": {"datum": 0.0903, "axis": null}, "y": {"datum": 3.154, "axis": null}}},
            {"data": {"values": [{}]}, "mark": {"type": "circle", "color": "#1c5fae", "size": 75, "opacity": 1},
             "encoding": {"x": {"datum": 0.0903, "axis": null}, "y": {"datum": 2.83, "axis": null}}},
            {"data": {"values": [{}]}, "mark": {"type": "circle", "color": "#e41e26", "size": 75, "opacity": 1},
             "encoding": {"x": {"datum": 1.038, "axis": null}, "y": {"datum": 3.154, "axis": null}}},
            {"data": {"values": [{}]}, "mark": {"type": "circle", "color": "#1c5fae", "size": 75, "opacity": 1},
             "encoding": {"x": {"datum": 1.038, "axis": null}, "y": {"datum": 2.83, "axis": null}}},
            {"data": {"values": [{}]}, "mark": {"type": "text", "text": "Amplitude", "align": "right", "baseline": "middle", "fontSize": 15.5, "color": "#e41e26"},
             "encoding": {"x": {"datum": 0.1056, "axis": null}, "y": {"datum": 2.037, "axis": null}}},
            {"data": {"values": [{}]}, "mark": {"type": "text", "text": "and", "align": "center", "baseline": "middle", "fontSize": 15.5},
             "encoding": {"x": {"datum": 0.1296, "axis": null}, "y": {"datum": 2.037, "axis": null}}},
            {"data": {"values": [{}]}, "mark": {"type": "text", "text": "phase", "align": "left", "baseline": "middle", "fontSize": 15.5, "color": "#3b7cc6"},
             "encoding": {"x": {"datum": 0.1589, "axis": null}, "y": {"datum": 2.037, "axis": null}}},
            {"data": {"values": [{}]}, "mark": {"type": "text", "text": "experimental noise levels", "align": "center", "baseline": "middle", "fontSize": 15.5},
             "encoding": {"x": {"datum": 0.1127, "axis": null}, "y": {"datum": 1.825, "axis": null}}},
            {"data": {"values": [{}]}, "mark": {"type": "rule", "color": "black", "strokeWidth": 1},
             "encoding": {"x": {"datum": 0.0399, "axis": null}, "x2": {"datum": 0.0201}, "y": {"datum": 2.0, "axis": null}, "y2": {"datum": 2.254}}},
            {"data": {"values": [{}]}, "mark": {"type": "point", "shape": "M-2,-0.8L0,0L-2,0.8", "filled": false, "stroke": "black", "strokeWidth": 1, "size": 64, "angle": 198, "opacity": 1},
             "encoding": {"x": {"datum": 0.0201, "axis": null}, "y": {"datum": 2.254, "axis": null}}},
            {"data": {"values": [{}]}, "mark": {"type": "rule", "color": "black", "strokeWidth": 1},
             "encoding": {"x": {"datum": 0.305, "axis": null}, "x2": {"datum": 0.597}, "y": {"datum": 2.0, "axis": null}, "y2": {"datum": 2.646}}},
            {"data": {"values": [{}]}, "mark": {"type": "point", "shape": "M-2,-0.8L0,0L-2,0.8", "filled": false, "stroke": "black", "strokeWidth": 1, "size": 64, "angle": 320, "opacity": 1},
             "encoding": {"x": {"datum": 0.597, "axis": null}, "y": {"datum": 2.646, "axis": null}}}
          ],
          "resolve": {"axis": {"x": "independent", "y": "independent"}}
        },
        {
          "layer": [
            {"data": {"values": [{}]}, "mark": {"type": "rule", "color": "#1c5fae", "strokeWidth": 1.5},
             "encoding": {"y": {"datum": 3.3, "scale": {"domain": [-0.143, 5], "nice": false, "zero": false}, "axis": null}}},
            {"data": {"name": "sext_v"}, "transform": [{"filter": "datum.kind == 'phase'"}],
             "mark": {"type": "line", "color": "#1c5fae", "strokeWidth": 2},
             "encoding": {
               "x": {"field": "x", "type": "quantitative", "axis": {"orient": "top", "values": [0.01, 0.1, 1], "labels": false, "title": null, "tickSize": -7}},
               "y": {"field": "y", "type": "quantitative", "scale": {"domain": [-0.143, 5], "nice": false, "zero": false},
                     "axis": {"orient": "right", "values": [0, 1, 2, 3, 4, 5], "format": ".1f", "title": "Δφ [mrad]", "tickSize": -7, "labelAlign": "right", "labelPadding": 43.5, "titlePadding": 22, "titleAngle": 270, "titleBaseline": "top"}},
               "strokeDash": {"field": "mode", "type": "nominal", "scale": {"domain": ["H(2,0)", "H(0,2)", "V(1,1)", "V(1,-1)"], "range": [[1, 0], [4, 3], [1, 0], [4, 3]]}, "legend": null}
             }},
            {"data": {"name": "sext_v"}, "transform": [{"filter": "datum.kind == 'phase' && datum.x != 1"}],
             "mark": {"type": "circle", "color": "#1c5fae", "size": 75, "opacity": 1},
             "encoding": {
               "x": {"field": "x", "type": "quantitative", "axis": {"orient": "top", "values": [0.02, 0.03, 0.04, 0.05, 0.06, 0.07, 0.08, 0.09, 0.2, 0.3, 0.4, 0.5, 0.6, 0.7, 0.8, 0.9, 2, 3, 4, 5, 6, 7], "labels": false, "title": null, "tickSize": -4}},
               "y": {"field": "y", "type": "quantitative", "axis": null}}},
            {"data": {"name": "sext_v"}, "transform": [{"filter": "datum.kind == 'phase' && datum.x == 1"}],
             "mark": {"type": "square", "fill": "#1c5fae", "stroke": "black", "strokeWidth": 2, "size": 60, "opacity": 1},
             "encoding": {"x": {"field": "x", "type": "quantitative", "axis": null}, "y": {"field": "y", "type": "quantitative", "axis": null}}}
          ],
          "resolve": {"axis": {"x": "independent", "y": "independent"}}
        }
      ],
      "resolve": {"scale": {"y": "independent"}, "axis": {"x": "independent", "y": "independent"}}
    }
  ]
}
